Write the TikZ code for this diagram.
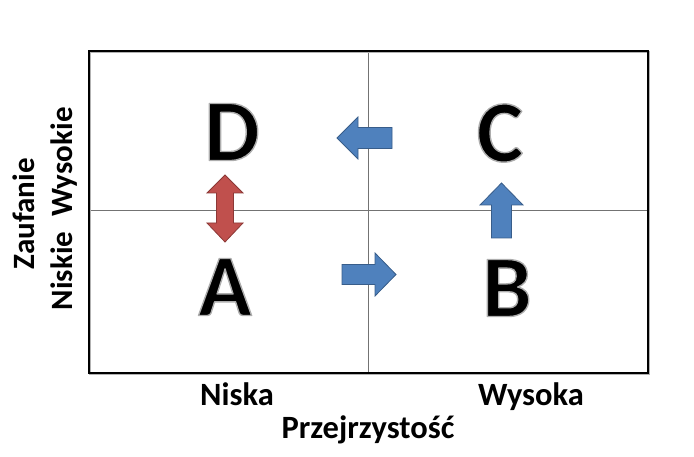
\documentclass[tikz,border=0pt]{standalone}
\usepackage{fontspec}
\setmainfont{Carlito}
\definecolor{arrblue}{HTML}{4F81BD}
\definecolor{arrblueedge}{HTML}{385D8A}
\definecolor{arrred}{HTML}{C0504D}
\definecolor{arrrededge}{HTML}{8C3836}
\newcommand{\haloletter}[1]{\special{pdf:literal 2 Tr 0.68 G 1.4 w 1 j}#1\special{pdf:literal 0 Tr}}
\begin{document}
\begin{tikzpicture}[x=1pt,y=1pt,
  bigletter/.style={font=\bfseries\fontsize{88}{90}\selectfont, inner sep=0pt, text=black},
  axislabel/.style={font=\bfseries\fontsize{32.5}{36}\selectfont, inner sep=0pt, anchor=base},
  sidelabel/.style={font=\bfseries\fontsize{31}{36}\selectfont, inner sep=0pt, anchor=base, rotate=90},
  bluearrow/.style={fill=arrblue, draw=arrblueedge, line width=0.8pt, line join=miter},
  redarrow/.style={fill=arrred, draw=arrrededge, line width=0.8pt, line join=miter},
  gridline/.style={draw=black!55, line width=1pt}]
\useasboundingbox (0,0) rectangle (694,456);
% frame and quadrant lines
\coordinate (tl) at (89,405);
\coordinate (br) at (648,83);
\draw[gridline] (368,405) -- (368,83);
\draw[gridline] (89,245) -- (648,245);
\draw[black!30, line width=1.5pt] ([shift={(1.2,-1.2)}]tl) rectangle ([shift={(1.2,-1.2)}]br);
\draw[black, line width=1.5pt] (tl) rectangle (br);
% letters with grey halo
\node[bigletter] (D) at (232,324) {\haloletter{D}};
\node[bigletter] (C) at (500,323) {\haloletter{C}};
\node[bigletter] (A) at (225,169) {\haloletter{A}};
\node[bigletter] (B) at (507,168) {\haloletter{B}};
% arrows
\draw[bluearrow] (337,318) -- (358,339) -- (358,328.5) -- (392,328.5) -- (392,307.5) -- (358,307.5) -- (358,297) -- cycle;
\draw[bluearrow] (396,181.5) -- (375,203) -- (375,191.5) -- (342,191.5) -- (342,171.5) -- (375,171.5) -- (375,160) -- cycle;
\draw[bluearrow] (501.5,273) -- (523,251) -- (511.5,251) -- (511.5,218) -- (491.5,218) -- (491.5,251) -- (480,251) -- cycle;
\draw[redarrow] (225,281) -- (243,263) -- (233.5,263) -- (233.5,233) -- (243,233) -- (225,214) -- (207,233) -- (216.5,233) -- (216.5,263) -- (207,263) -- cycle;
% axis labels
\node[axislabel] (niska) at (237,51) {Niska};
\node[axislabel] (wysoka) at (531,51) {Wysoka};
\node[axislabel] (przej) at (368,18) {Przejrzystość};
\node[sidelabel] (zauf) at (35,242) {Zaufanie};
\node[sidelabel] (wys) at (72,294) {Wysokie};
\node[sidelabel] (nis) at (72,185) {Niskie};
\end{tikzpicture}
\end{document}
